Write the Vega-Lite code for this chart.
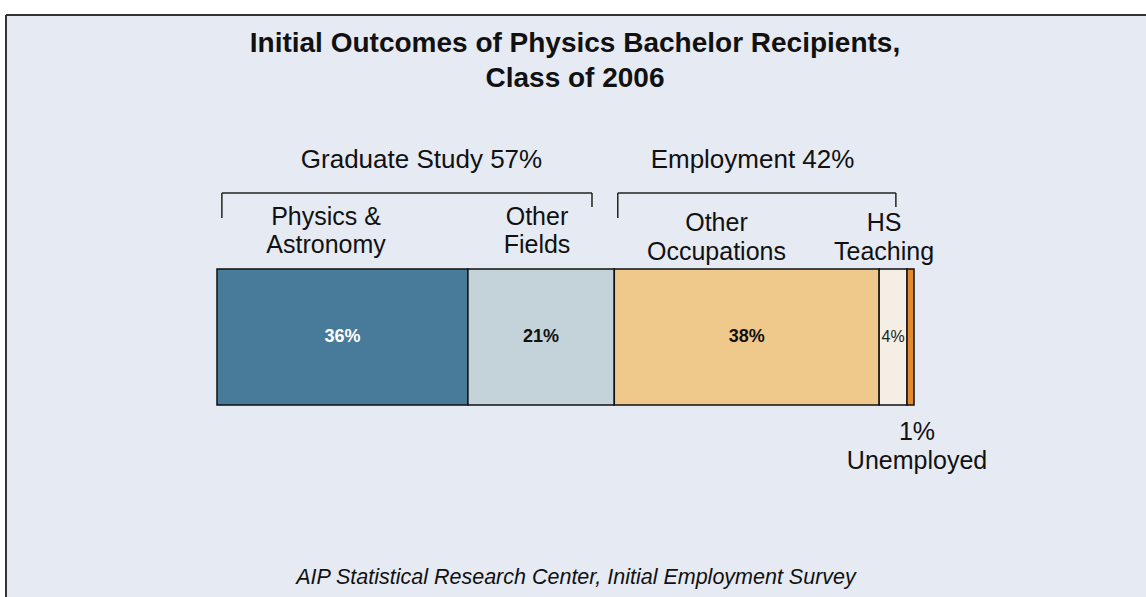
{
  "$schema": "https://vega.github.io/schema/vega-lite/v6.json",
  "width": 1140,
  "height": 582,
  "autosize": {"type": "none"},
  "padding": {"left": 6, "top": 15, "right": 0, "bottom": 0},
  "background": "#ffffff",
  "config": {
    "view": {"fill": "#E6EAF3", "stroke": null},
    "font": "Liberation Sans",
    "text": {"color": "#111111"}
  },
  "datasets": {
    "segments": [
      {"outcome": "Physics & Astronomy", "group": "Graduate Study", "share": 0.36, "rank": 1},
      {"outcome": "Other Fields", "group": "Graduate Study", "share": 0.21, "rank": 2},
      {"outcome": "Other Occupations", "group": "Employment", "share": 0.38, "rank": 3},
      {"outcome": "HS Teaching", "group": "Employment", "share": 0.04, "rank": 4},
      {"outcome": "Unemployed", "group": "Unemployed", "share": 0.01, "rank": 5}
    ],
    "brackets": [
      {"group": "Graduate Study", "share": 0.57, "from": 0.007, "to": 0.538},
      {"group": "Employment", "share": 0.42, "from": 0.575, "to": 0.974}
    ],
    "one": [{}]
  },
  "layer": [
    {
      "data": {"name": "one"},
      "mark": {"type": "rule", "color": "#333333", "strokeWidth": 2},
      "encoding": {
        "x": {"datum": -0.30273, "type": "quantitative", "axis": null, "scale": {"domain": [-0.30273, 1.33285], "nice": false, "zero": false}},
        "y": {"datum": -1.412, "type": "quantitative", "axis": null, "scale": {"domain": [-1.412, 2.868], "nice": false, "zero": false}},
        "y2": {"datum": 2.868}
      }
    },
    {
      "data": {"name": "one"},
      "mark": {"type": "rule", "color": "#333333", "strokeWidth": 2},
      "encoding": {
        "x": {"datum": -0.30273, "type": "quantitative", "axis": null, "scale": {"domain": [-0.30273, 1.33285], "nice": false, "zero": false}},
        "x2": {"datum": 1.33285},
        "y": {"datum": 2.868, "type": "quantitative", "axis": null, "scale": {"domain": [-1.412, 2.868], "nice": false, "zero": false}}
      }
    },
    {
      "data": {"name": "segments"},
      "transform": [
        {"stack": "share", "groupby": [], "sort": [{"field": "rank", "order": "ascending"}], "as": ["x0", "x1"]}
      ],
      "mark": {"type": "bar", "stroke": "#111111", "strokeWidth": 1.5},
      "encoding": {
        "x": {"field": "x0", "type": "quantitative", "axis": null, "scale": {"domain": [-0.30273, 1.33285], "nice": false, "zero": false}},
        "x2": {"field": "x1"},
        "y": {"datum": 0, "type": "quantitative", "axis": null, "scale": {"domain": [-1.412, 2.868], "nice": false, "zero": false}},
        "y2": {"datum": 1},
        "color": {
          "field": "outcome",
          "type": "nominal",
          "legend": null,
          "scale": {
            "domain": ["Physics & Astronomy", "Other Fields", "Other Occupations", "HS Teaching", "Unemployed"],
            "range": ["#487A9A", "#C4D2D9", "#EFC98C", "#F4EEE4", "#E38A2E"]
          }
        }
      }
    },
    {
      "data": {"name": "segments"},
      "transform": [
        {"stack": "share", "groupby": [], "sort": [{"field": "rank", "order": "ascending"}], "as": ["x0", "x1"]},
        {"calculate": "(datum.x0 + datum.x1) / 2", "as": "xm"},
        {"filter": "datum.share >= 0.1"}
      ],
      "mark": {"type": "text", "fontSize": 18, "fontWeight": "bold", "baseline": "middle", "align": "center"},
      "encoding": {
        "x": {"field": "xm", "type": "quantitative", "axis": null, "scale": {"domain": [-0.30273, 1.33285], "nice": false, "zero": false}},
        "y": {"datum": 0.5, "type": "quantitative", "axis": null, "scale": {"domain": [-1.412, 2.868], "nice": false, "zero": false}},
        "text": {"field": "share", "type": "quantitative", "format": ".0%"},
        "color": {"condition": {"test": "datum.outcome === 'Physics & Astronomy'", "value": "#ffffff"}, "value": "#111111"}
      }
    },
    {
      "data": {"name": "segments"},
      "transform": [
        {"stack": "share", "groupby": [], "sort": [{"field": "rank", "order": "ascending"}], "as": ["x0", "x1"]},
        {"calculate": "(datum.x0 + datum.x1) / 2", "as": "xm"},
        {"filter": "datum.share > 0.02 && datum.share < 0.1"}
      ],
      "mark": {"type": "text", "fontSize": 16, "baseline": "middle", "align": "center", "color": "#222222"},
      "encoding": {
        "x": {"field": "xm", "type": "quantitative", "axis": null, "scale": {"domain": [-0.30273, 1.33285], "nice": false, "zero": false}},
        "y": {"datum": 0.5, "type": "quantitative", "axis": null, "scale": {"domain": [-1.412, 2.868], "nice": false, "zero": false}},
        "text": {"field": "share", "type": "quantitative", "format": ".0%"}
      }
    },
    {
      "data": {"name": "brackets"},
      "mark": {"type": "rule", "color": "#222222", "strokeWidth": 1.5},
      "encoding": {
        "x": {"field": "from", "type": "quantitative", "axis": null, "scale": {"domain": [-0.30273, 1.33285], "nice": false, "zero": false}},
        "x2": {"field": "to"},
        "y": {"datum": 1.559, "type": "quantitative", "axis": null, "scale": {"domain": [-1.412, 2.868], "nice": false, "zero": false}}
      }
    },
    {
      "data": {"name": "brackets"},
      "mark": {"type": "rule", "color": "#222222", "strokeWidth": 1.5},
      "encoding": {
        "x": {"field": "from", "type": "quantitative", "axis": null, "scale": {"domain": [-0.30273, 1.33285], "nice": false, "zero": false}},
        "y": {"datum": 1.559, "type": "quantitative", "axis": null, "scale": {"domain": [-1.412, 2.868], "nice": false, "zero": false}},
        "y2": {"datum": 1.375}
      }
    },
    {
      "data": {"name": "brackets"},
      "mark": {"type": "rule", "color": "#222222", "strokeWidth": 1.5},
      "encoding": {
        "x": {"field": "to", "type": "quantitative", "axis": null, "scale": {"domain": [-0.30273, 1.33285], "nice": false, "zero": false}},
        "y": {"datum": 1.559, "type": "quantitative", "axis": null, "scale": {"domain": [-1.412, 2.868], "nice": false, "zero": false}},
        "y2": {"datum": 1.456}
      }
    },
    {
      "data": {"name": "one"},
      "mark": {"type": "text", "fontSize": 26, "baseline": "middle", "align": "center"},
      "encoding": {
        "x": {"datum": 0.2934, "type": "quantitative", "axis": null, "scale": {"domain": [-0.30273, 1.33285], "nice": false, "zero": false}},
        "y": {"datum": 1.801, "type": "quantitative", "axis": null, "scale": {"domain": [-1.412, 2.868], "nice": false, "zero": false}},
        "text": {"value": "Graduate Study 57%"}
      }
    },
    {
      "data": {"name": "one"},
      "mark": {"type": "text", "fontSize": 26, "baseline": "middle", "align": "center"},
      "encoding": {
        "x": {"datum": 0.7683, "type": "quantitative", "axis": null, "scale": {"domain": [-0.30273, 1.33285], "nice": false, "zero": false}},
        "y": {"datum": 1.801, "type": "quantitative", "axis": null, "scale": {"domain": [-1.412, 2.868], "nice": false, "zero": false}},
        "text": {"value": "Employment 42%"}
      }
    },
    {
      "data": {"name": "one"},
      "mark": {"type": "text", "fontSize": 25, "lineHeight": 28, "baseline": "middle", "align": "center"},
      "encoding": {
        "x": {"datum": 0.1564, "type": "quantitative", "axis": null, "scale": {"domain": [-0.30273, 1.33285], "nice": false, "zero": false}},
        "y": {"datum": 1.382, "type": "quantitative", "axis": null, "scale": {"domain": [-1.412, 2.868], "nice": false, "zero": false}},
        "text": {"value": ["Physics &", "Astronomy"]}
      }
    },
    {
      "data": {"name": "one"},
      "mark": {"type": "text", "fontSize": 25, "lineHeight": 28, "baseline": "middle", "align": "center"},
      "encoding": {
        "x": {"datum": 0.4591, "type": "quantitative", "axis": null, "scale": {"domain": [-0.30273, 1.33285], "nice": false, "zero": false}},
        "y": {"datum": 1.382, "type": "quantitative", "axis": null, "scale": {"domain": [-1.412, 2.868], "nice": false, "zero": false}},
        "text": {"value": ["Other", "Fields"]}
      }
    },
    {
      "data": {"name": "one"},
      "mark": {"type": "text", "fontSize": 25, "lineHeight": 29, "baseline": "middle", "align": "center"},
      "encoding": {
        "x": {"datum": 0.7166, "type": "quantitative", "axis": null, "scale": {"domain": [-0.30273, 1.33285], "nice": false, "zero": false}},
        "y": {"datum": 1.342, "type": "quantitative", "axis": null, "scale": {"domain": [-1.412, 2.868], "nice": false, "zero": false}},
        "text": {"value": ["Other", "Occupations"]}
      }
    },
    {
      "data": {"name": "one"},
      "mark": {"type": "text", "fontSize": 25, "lineHeight": 29, "baseline": "middle", "align": "center"},
      "encoding": {
        "x": {"datum": 0.957, "type": "quantitative", "axis": null, "scale": {"domain": [-0.30273, 1.33285], "nice": false, "zero": false}},
        "y": {"datum": 1.342, "type": "quantitative", "axis": null, "scale": {"domain": [-1.412, 2.868], "nice": false, "zero": false}},
        "text": {"value": ["HS", "Teaching"]}
      }
    },
    {
      "data": {"name": "one"},
      "mark": {"type": "text", "fontSize": 25, "lineHeight": 29, "baseline": "middle", "align": "center"},
      "encoding": {
        "x": {"datum": 1.0043, "type": "quantitative", "axis": null, "scale": {"domain": [-0.30273, 1.33285], "nice": false, "zero": false}},
        "y": {"datum": -0.195, "type": "quantitative", "axis": null, "scale": {"domain": [-1.412, 2.868], "nice": false, "zero": false}},
        "text": {"value": ["1%", "Unemployed"]}
      }
    },
    {
      "data": {"name": "one"},
      "mark": {"type": "text", "fontSize": 28, "fontWeight": "bold", "lineHeight": 35, "baseline": "middle", "align": "center"},
      "encoding": {
        "x": {"datum": 0.5136, "type": "quantitative", "axis": null, "scale": {"domain": [-0.30273, 1.33285], "nice": false, "zero": false}},
        "y": {"datum": 2.654, "type": "quantitative", "axis": null, "scale": {"domain": [-1.412, 2.868], "nice": false, "zero": false}},
        "text": {"value": ["Initial Outcomes of Physics Bachelor Recipients,", "Class of 2006"]}
      }
    },
    {
      "data": {"name": "one"},
      "mark": {"type": "text", "fontSize": 21.5, "fontStyle": "italic", "baseline": "middle", "align": "center"},
      "encoding": {
        "x": {"datum": 0.515, "type": "quantitative", "axis": null, "scale": {"domain": [-0.30273, 1.33285], "nice": false, "zero": false}},
        "y": {"datum": -1.272, "type": "quantitative", "axis": null, "scale": {"domain": [-1.412, 2.868], "nice": false, "zero": false}},
        "text": {"value": "AIP Statistical Research Center, Initial Employment Survey"}
      }
    }
  ]
}
